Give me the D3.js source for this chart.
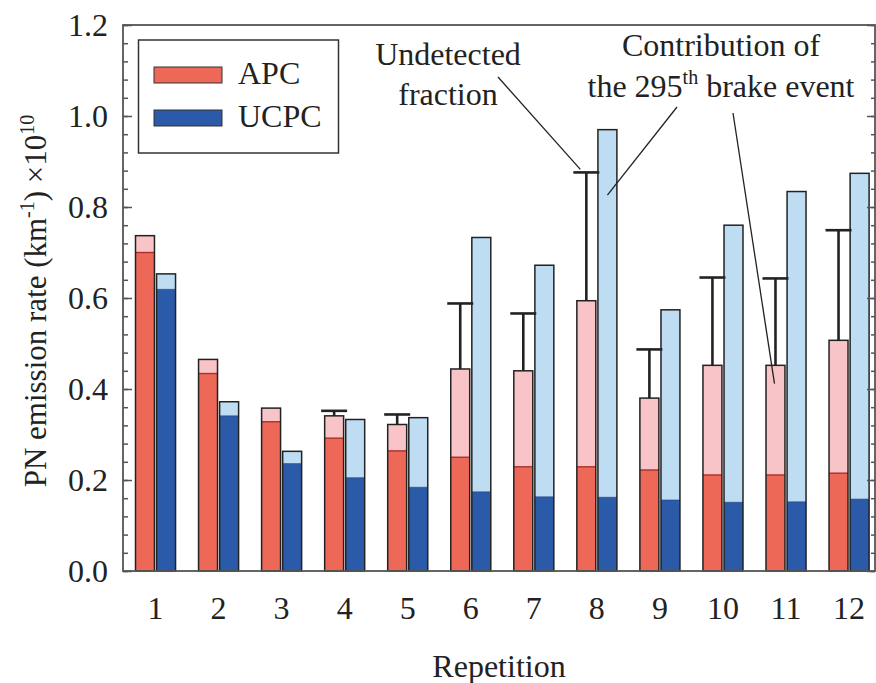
<!DOCTYPE html>
<html>
<head>
<meta charset="utf-8">
<script src="https://cdn.jsdelivr.net/npm/d3@7"></script>
<style>
  html, body { margin: 0; padding: 0; background: #fff; }
  svg text { font-family: "Liberation Serif", "DejaVu Serif", serif; fill: #222; }
</style>
</head>
<body>
<svg id="chart" width="876" height="683"></svg>
<script>
// Repetitions on the x axis
const repetitions = [1, 2, 3, 4, 5, 6, 7, 8, 9, 10, 11, 12];

// APC: detected part and total (detected + undetected fraction)
const apcDetected = [0.700, 0.434, 0.328, 0.292, 0.264, 0.250, 0.229, 0.229, 0.222, 0.211, 0.211, 0.215];
const apcTotal    = [0.737, 0.465, 0.358, 0.341, 0.322, 0.444, 0.440, 0.594, 0.380, 0.452, 0.452, 0.507];
// Upper whisker on the APC bars (null = none drawn)
const apcErrorTop = [null, null, null, 0.352, 0.344, 0.588, 0.566, 0.876, 0.487, 0.645, 0.643, 0.749];

// UCPC: detected part and total
const ucpcDetected = [0.619, 0.341, 0.236, 0.205, 0.184, 0.174, 0.163, 0.162, 0.156, 0.151, 0.152, 0.158];
const ucpcTotal    = [0.653, 0.372, 0.263, 0.333, 0.337, 0.733, 0.672, 0.970, 0.574, 0.760, 0.834, 0.874];

// Axis ticks
const yMajorTicks = [0.0, 0.2, 0.4, 0.6, 0.8, 1.0, 1.2];
const yMinorTicks = d3.range(0, 1.2001, 0.04);

const instruments = ["APC", "UCPC"];
const colors = {
  APC:  { dark: "#EE6858", light: "#F8C4C7", edge: "#A8302A" },
  UCPC: { dark: "#2B5BA8", light: "#BEDDF3", edge: "#1E3F78" }
};
const FONT = "'Liberation Serif', 'DejaVu Serif', serif";

const svg = d3.select("#chart");
const plot = { left: 123, right: 875, top: 25, bottom: 571 };

const x = d3.scaleBand()
  .domain(repetitions)
  .range([plot.left, plot.right + 1])
  .paddingInner(0.365)
  .paddingOuter(0.154)
  .align(0.644);

const xSub = d3.scaleBand()
  .domain(instruments)
  .range([0, x.bandwidth()])
  .paddingInner(0.1);

const y = d3.scaleLinear().domain([0, 1.2]).range([plot.bottom, plot.top]);

const rows = repetitions.map((r, i) => ({
  rep: r,
  APC:  { det: apcDetected[i], tot: apcTotal[i], err: apcErrorTop[i] },
  UCPC: { det: ucpcDetected[i], tot: ucpcTotal[i] }
}));

// Bars: light total, dark detected portion, black outline on top
const groups = svg.append("g").selectAll("g")
  .data(rows).join("g")
  .attr("transform", d => `translate(${x(d.rep)},0)`);

instruments.forEach(inst => {
  const bx = xSub(inst), bw = xSub.bandwidth();
  groups.append("rect")
    .attr("x", bx).attr("width", bw)
    .attr("y", d => y(d[inst].tot))
    .attr("height", d => y(0) - y(d[inst].tot))
    .attr("fill", colors[inst].light);
  groups.append("rect")
    .attr("x", bx).attr("width", bw)
    .attr("y", d => y(d[inst].det))
    .attr("height", d => y(0) - y(d[inst].det))
    .attr("fill", colors[inst].dark);
  groups.append("line")
    .attr("x1", bx).attr("x2", bx + bw)
    .attr("y1", d => y(d[inst].det)).attr("y2", d => y(d[inst].det))
    .attr("stroke", colors[inst].edge).attr("stroke-width", inst === "APC" ? 1.4 : 0.6);
  groups.append("rect")
    .attr("x", bx).attr("width", bw)
    .attr("y", d => y(d[inst].tot))
    .attr("height", d => y(0) - y(d[inst].tot))
    .attr("fill", "none").attr("stroke", "#222").attr("stroke-width", 1.5);
});

// Error whiskers on APC bars
const errG = groups.filter(d => d.APC.err != null);
const apcMid = xSub("APC") + xSub.bandwidth() / 2;
errG.append("line")
  .attr("x1", apcMid).attr("x2", apcMid)
  .attr("y1", d => y(d.APC.tot)).attr("y2", d => y(d.APC.err))
  .attr("stroke", "#222").attr("stroke-width", 2.6);
errG.append("line")
  .attr("x1", apcMid - 13).attr("x2", apcMid + 13)
  .attr("y1", d => y(d.APC.err)).attr("y2", d => y(d.APC.err))
  .attr("stroke", "#222").attr("stroke-width", 2.6);

// Frame and inward ticks
const axisColor = "#555";
const leftMinor = svg.append("g").attr("transform", `translate(${plot.left},0)`)
  .call(d3.axisLeft(y).tickValues(yMinorTicks).tickSize(-5).tickFormat(""));
const leftMajor = svg.append("g").attr("transform", `translate(${plot.left},0)`)
  .call(d3.axisLeft(y).tickValues(yMajorTicks).tickSizeInner(-9).tickSizeOuter(0)
    .tickPadding(15).tickFormat(d3.format(".1f")));
const rightMinor = svg.append("g").attr("transform", `translate(${plot.right},0)`)
  .call(d3.axisRight(y).tickValues(yMinorTicks).tickSize(-4).tickFormat(""));
const rightMajor = svg.append("g").attr("transform", `translate(${plot.right},0)`)
  .call(d3.axisRight(y).tickValues(yMajorTicks).tickSize(-8).tickFormat(""));
[leftMinor, leftMajor, rightMinor, rightMajor].forEach(g => {
  g.attr("font-family", FONT);
  g.select(".domain").remove();
  g.selectAll(".tick line").attr("stroke", axisColor).attr("stroke-width", 1.5);
});
leftMajor.attr("font-size", 32);
leftMajor.selectAll(".tick text").attr("fill", "#222");

svg.append("rect")
  .attr("x", plot.left).attr("y", plot.top)
  .attr("width", plot.right - plot.left).attr("height", plot.bottom - plot.top)
  .attr("fill", "none").attr("stroke", axisColor).attr("stroke-width", 1.8);

// X axis labels (no tick marks)
const xAxis = svg.append("g").attr("transform", `translate(0,${plot.bottom})`)
  .call(d3.axisBottom(x).tickSize(0).tickPadding(25));
xAxis.attr("font-family", FONT).attr("font-size", 32);
xAxis.select(".domain").remove();
xAxis.selectAll(".tick text").attr("fill", "#222");

// Axis titles
svg.append("text")
  .attr("x", (plot.left + plot.right) / 2).attr("y", 677)
  .attr("text-anchor", "middle").attr("font-size", 32)
  .text("Repetition");

const yTitle = svg.append("text")
  .attr("transform", `translate(46,${(plot.top + plot.bottom) / 2 + 3}) rotate(-90)`)
  .attr("text-anchor", "middle").attr("font-size", 31);
yTitle.append("tspan").text("PN emission rate (km");
yTitle.append("tspan").attr("dy", -12).attr("font-size", 20).text("-1");
yTitle.append("tspan").attr("dy", 12).text(") \u00D710");
yTitle.append("tspan").attr("dy", -12).attr("font-size", 20).text("10");

// Legend
const legend = svg.append("g");
legend.append("rect")
  .attr("x", 138.5).attr("y", 40).attr("width", 200).attr("height", 113)
  .attr("fill", "#fff").attr("stroke", "#333").attr("stroke-width", 1.5);
instruments.forEach((inst, i) => {
  const ly = 67 + i * 43;
  legend.append("rect")
    .attr("x", 154).attr("y", ly).attr("width", 68).attr("height", 16)
    .attr("fill", colors[inst].dark).attr("stroke", "#333").attr("stroke-width", 1);
  legend.append("text")
    .attr("x", 238).attr("y", ly + 16.5)
    .attr("font-size", 32).text(inst);
});

// Annotations
const ann = svg.append("g");
ann.append("text").attr("x", 448).attr("y", 65)
  .attr("text-anchor", "middle").attr("font-size", 32).text("Undetected");
ann.append("text").attr("x", 448).attr("y", 105)
  .attr("text-anchor", "middle").attr("font-size", 32).text("fraction");

ann.append("text").attr("x", 721).attr("y", 56)
  .attr("text-anchor", "middle").attr("font-size", 32).text("Contribution of");
const t2 = ann.append("text").attr("x", 721).attr("y", 97)
  .attr("text-anchor", "middle").attr("font-size", 32);
t2.append("tspan").text("the 295");
t2.append("tspan").attr("dy", -13).attr("font-size", 20).text("th");
t2.append("tspan").attr("dy", 13).text(" brake event");

const apcCenter = r => x(r) + xSub("APC") + xSub.bandwidth() / 2;
const ucpcCenter = r => x(r) + xSub("UCPC") + xSub.bandwidth() / 2;
const leaders = [
  { x1: 498, y1: 77, x2: apcCenter(8) - 6, y2: y(apcErrorTop[7]) - 3 },
  { x1: 677, y1: 107, x2: ucpcCenter(8), y2: y(0.826) },
  { x1: 733, y1: 113, x2: apcCenter(11) - 1, y2: y(0.412) }
];
ann.selectAll("line.leader").data(leaders).join("line")
  .attr("class", "leader")
  .attr("x1", d => d.x1).attr("y1", d => d.y1)
  .attr("x2", d => d.x2).attr("y2", d => d.y2)
  .attr("stroke", "#222").attr("stroke-width", 1.3);
</script>
</body>
</html>
